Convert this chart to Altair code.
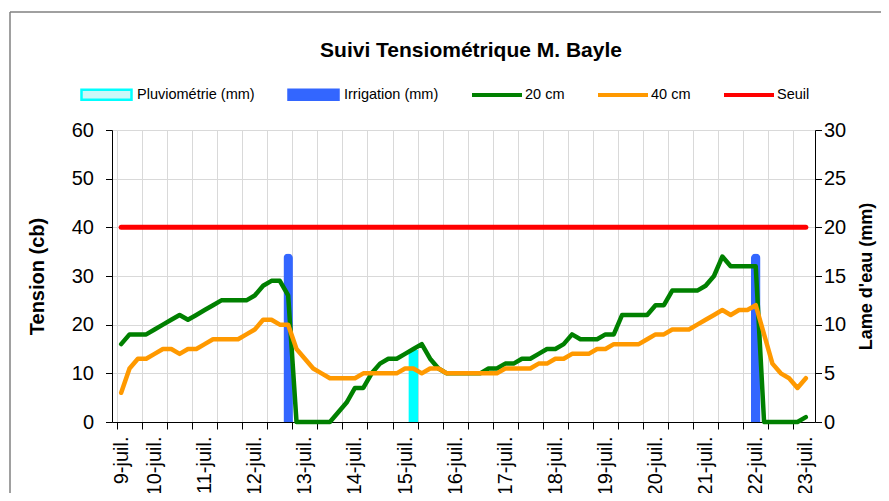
import altair as alt
import pandas as pd

FONT = "Liberation Sans"

# ---------------- data ----------------
jours = ["9-juil.", "10-juil.", "11-juil.", "12-juil.", "13-juil.", "14-juil.", "15-juil.",
         "16-juil.", "17-juil.", "18-juil.", "19-juil.", "20-juil.", "21-juil.", "22-juil.", "23-juil."]
releves_par_jour = [4, 6, 6, 6, 6, 6, 6, 6, 6, 6, 6, 6, 6, 6, 1]

tension_20cm = [16, 18, 18, 18, 19, 20, 21, 22, 21, 22, 23, 24, 25, 25, 25, 25, 26, 28, 29, 29,
                26, 0, 0, 0, 0, 0, 2, 4, 7, 7, 10, 12, 13, 13, 14, 15, 16, 13, 11, 10,
                10, 10, 10, 10, 11, 11, 12, 12, 13, 13, 14, 15, 15, 16, 18, 17, 17, 17, 18, 18,
                22, 22, 22, 22, 24, 24, 27, 27, 27, 27, 28, 30, 34, 32, 32, 32, 32, 0, 0, 0,
                0, 0, 1]
tension_40cm = [6, 11, 13, 13, 14, 15, 15, 14, 15, 15, 16, 17, 17, 17, 17, 18, 19, 21, 21, 20,
                20, 15, 13, 11, 10, 9, 9, 9, 9, 10, 10, 10, 10, 10, 11, 11, 10, 11, 11, 10,
                10, 10, 10, 10, 10, 10, 11, 11, 11, 11, 12, 12, 13, 13, 14, 14, 14, 15, 15, 16,
                16, 16, 16, 17, 18, 18, 19, 19, 19, 20, 21, 22, 23, 22, 23, 23, 24, 18, 12, 10,
                9, 7, 9]
seuil_cb = 40

pluvio_releve = [35]
pluvio_mm = [7.4]
irrigation_releve = [20, 76]
irrigation_mm = [17.3, 17.3]

titre = "Suivi Tensiométrique M. Bayle"
types_barres = ["Pluviométrie (mm)", "Irrigation (mm)"]
series_lignes = ["20 cm", "40 cm", "Seuil"]

# ---------------- tables ----------------
n = len(tension_20cm)
releve = list(range(n))
debuts = []
c = 0
for k in releves_par_jour:
    debuts.append(c)
    c += k

df_lignes = pd.DataFrame({"releve": releve, "20 cm": tension_20cm, "40 cm": tension_40cm,
                          "Seuil": [seuil_cb] * n})
df_long = df_lignes.melt("releve", var_name="serie", value_name="tension")
df_pluie = pd.DataFrame({"releve": pluvio_releve, "mm": pluvio_mm, "type": types_barres[0]})
df_irr = pd.DataFrame({"releve": irrigation_releve, "mm": irrigation_mm, "type": types_barres[1]})
df_types = pd.DataFrame({"type": types_barres})

tick_vals = [-0.5 + 3 * k for k in range((n + 2) // 3)]
label_expr = "[" + ",".join("'%s'" % j for j in jours) + "][indexof([" + \
    ",".join(str(d) for d in debuts) + "], datum.value)]"

x_scale = alt.Scale(domain=[-0.5, n - 0.5], nice=False, zero=False)

axis_ticks = alt.Axis(orient="bottom", values=tick_vals, labels=False, ticks=True, tickSize=7,
                      tickColor="black", domain=True, domainColor="black", domainWidth=1,
                      grid=True, gridColor="#d9d9d9", gridWidth=1, title=None)
axis_labels = alt.Axis(orient="bottom", values=debuts, labelExpr=label_expr, ticks=False,
                       tickSize=0, domain=False, grid=False, labelAngle=270, labelFont=FONT,
                       labelFontSize=20, labelColor="black", labelPadding=14, labelFlush=False,
                       labelOverlap=False, title=None)

axis_left = alt.Axis(orient="left", values=list(range(0, 61, 10)), title="Tension (cb)",
                     titleFont=FONT, titleFontSize=20, titleFontWeight="bold", titleColor="black",
                     titlePadding=24, labelFont=FONT, labelFontSize=20, labelColor="black",
                     labelPadding=12, tickSize=6.5, tickColor="black", domainColor="black",
                     grid=True, gridColor="#d9d9d9", gridWidth=1)
axis_right = alt.Axis(orient="right", values=list(range(0, 31, 5)), title="Lame d'eau (mm)",
                      titleFont=FONT, titleFontSize=18, titleFontWeight="bold", titleColor="black",
                      titleAngle=270, titlePadding=30, labelFont=FONT, labelFontSize=20,
                      labelColor="black", labelPadding=2, tickSize=6.5, tickColor="black",
                      domainColor="black", grid=False)

# bars (plot colours)
bar_scale = alt.Scale(domain=types_barres, range=["#00FFFF", "#3366FF"])
y_mm = alt.Y("mm:Q", scale=alt.Scale(domain=[0, 30], nice=False), axis=axis_right)
x_bar = alt.X("releve:Q", scale=x_scale, axis=axis_labels)
fill_enc = alt.Fill("type:N", scale=bar_scale, legend=None)

pluie = alt.Chart(df_pluie).mark_bar(size=9.5).encode(x=x_bar, y=y_mm, fill=fill_enc)
irrig = alt.Chart(df_irr).mark_bar(size=9.5, cornerRadiusEnd=4.5).encode(x=x_bar, y=y_mm, fill=fill_enc)
barres = alt.layer(pluie, irrig)

# legend entries for the bars (light fill + cyan border for Pluviométrie)
leg_bar = alt.Legend(orient="none", legendX=-32, legendY=-62, direction="horizontal", title=None,
                     symbolType="M-1,-0.2H1V0.2H-1Z", symbolSize=2500, symbolStrokeWidth=2.5,
                     symbolOpacity=1, labelFont=FONT, labelFontSize=14.5, labelColor="black",
                     labelOffset=4, columnPadding=28, padding=0)
legende_barres = alt.Chart(df_types).mark_square(size=100).encode(
    x=alt.value(-1000), y=alt.value(-1000),
    fill=alt.Fill("type:N", scale=alt.Scale(domain=types_barres, range=["#ccf8f8", "#3366FF"]),
                  legend=leg_bar),
    stroke=alt.Stroke("type:N", scale=alt.Scale(domain=types_barres, range=["#00FFFF", "#3366FF"]),
                      legend=leg_bar),
)

# lines
stroke_scale = alt.Scale(domain=series_lignes, range=["#008000", "#FF9900", "#FF0000"])
stroke_legend = alt.Legend(orient="none", legendX=358, legendY=-62, direction="horizontal", title=None,
                           symbolType="stroke", symbolSize=2500, symbolStrokeWidth=4,
                           labelFont=FONT, labelFontSize=14.5, labelColor="black",
                           labelOffset=1, columnPadding=25, padding=0)
x_line = alt.X("releve:Q", scale=x_scale, axis=axis_ticks)
y_cb = alt.Y("tension:Q", scale=alt.Scale(domain=[0, 60], nice=False), axis=axis_left)
stroke_enc = alt.Stroke("serie:N", scale=stroke_scale, legend=stroke_legend)


def ligne(nom, w):
    return alt.Chart(df_long).transform_filter(alt.datum.serie == nom).mark_line(
        strokeWidth=w, strokeCap="round", strokeJoin="round").encode(
        x=x_line, y=y_cb, stroke=stroke_enc)


lignes = alt.layer(ligne("20 cm", 4.5), ligne("40 cm", 4.5), ligne("Seuil", 5))

txt = alt.Chart(pd.DataFrame({"t": [titre]})).mark_text(
    font=FONT, fontSize=21, fontWeight="bold", align="center", baseline="middle", color="black"
).encode(text="t:N", x=alt.value(359), y=alt.value(-79))

cadre_h = alt.Chart(pd.DataFrame({"a": [0]})).mark_rule(color="#808080", strokeWidth=1.5).encode(
    x=alt.value(-102), x2=alt.value(780), y=alt.value(-118))
cadre_g = alt.Chart(pd.DataFrame({"a": [0]})).mark_rule(color="#808080", strokeWidth=1.5).encode(
    x=alt.value(-102), y=alt.value(-118), y2=alt.value(380))

chart = alt.layer(barres, lignes, legende_barres, txt, cadre_h, cadre_g).resolve_scale(
    y="independent", fill="independent", stroke="independent"
).resolve_axis(x="independent", y="independent").properties(
    width=703, height=292,
    padding={"left": 104, "top": 122, "right": 66, "bottom": 71},
    autosize=alt.AutoSizeParams(type="none"),
    background="white",
).configure_view(strokeWidth=0)

chart.save("out.html", embed_options={"renderer": "svg", "actions": False})
